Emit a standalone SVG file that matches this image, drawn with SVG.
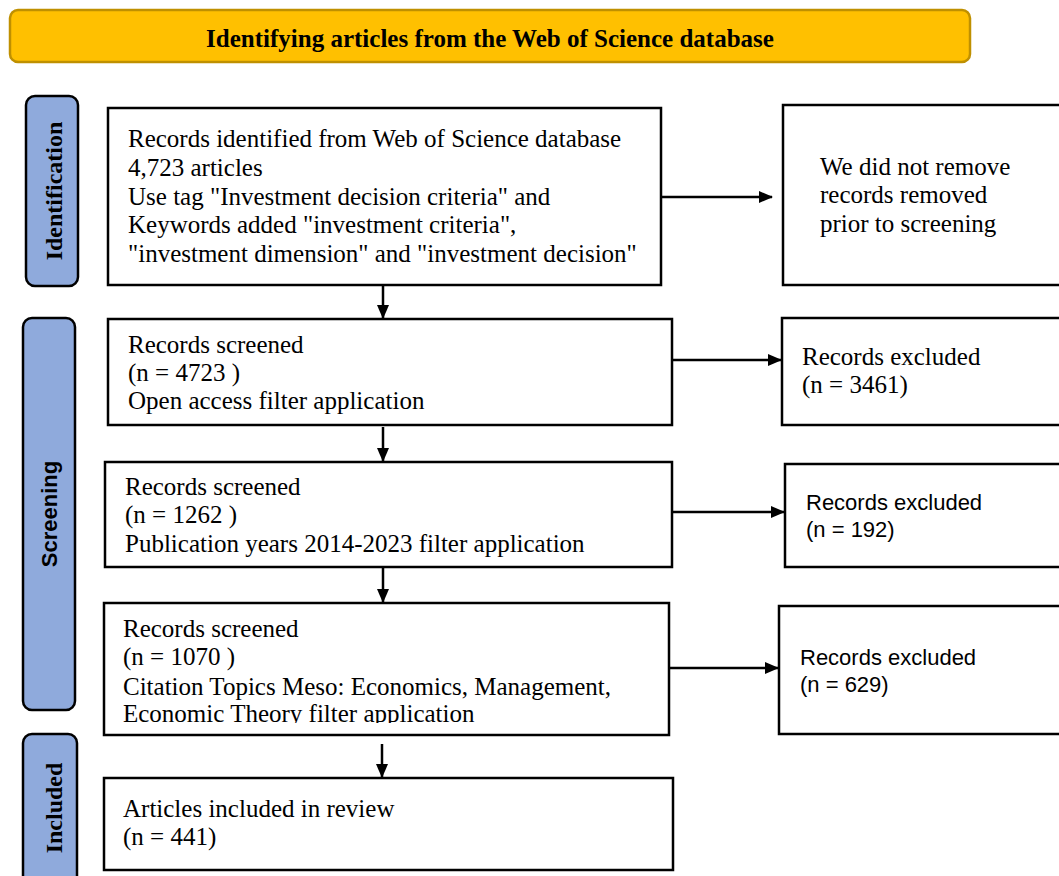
<svg xmlns="http://www.w3.org/2000/svg" width="1059" height="876" viewBox="0 0 1059 876">
<style>
.box{fill:#fff;stroke:#000;stroke-width:2.5}
.side{fill:#8FAADC;stroke:#000;stroke-width:2.5}
.t{font-family:"Liberation Serif","Times New Roman",serif;font-size:25px;fill:#000}
.a{font-family:"Liberation Sans",Arial,sans-serif;font-size:22px;fill:#000}
.sb{font-family:"Liberation Serif","Times New Roman",serif;font-size:24px;font-weight:bold;fill:#000}
.sa{font-family:"Liberation Sans",Arial,sans-serif;font-size:22px;font-weight:bold;fill:#000}
.c{stroke:#000;stroke-width:2.5;fill:none;marker-end:url(#ah)}
</style>
<defs>
<marker id="ah" markerWidth="14" markerHeight="12" refX="13" refY="6" orient="auto" markerUnits="userSpaceOnUse">
<path d="M0,0 L14,6 L0,12 Z" fill="#000"/>
</marker>
<clipPath id="clip3"><rect x="104" y="603" width="566" height="120"/></clipPath>
</defs>
<rect width="1059" height="876" fill="#fff"/>
<g id="banner">
<rect x="10" y="10" width="960" height="52" rx="8" fill="#FFC000" stroke="#BF9000" stroke-width="2.5"/>
<text x="490" y="47" text-anchor="middle" font-family="Liberation Serif,'Times New Roman',serif" font-size="25" font-weight="bold">Identifying articles from the Web of Science database</text>
</g>
<g id="lbl-identification">
<rect class="side" x="26" y="96" width="52" height="190" rx="9"/>
<text class="sb" transform="translate(62,191) rotate(-90)" text-anchor="middle">Identification</text>
</g>
<g id="lbl-screening">
<rect class="side" x="23" y="318" width="52" height="392" rx="9"/>
<text class="sa" transform="translate(57,514) rotate(-90)" text-anchor="middle">Screening</text>
</g>
<g id="lbl-included">
<rect class="side" x="23" y="734" width="54" height="160" rx="9"/>
<text class="sb" transform="translate(62,808) rotate(-90)" text-anchor="middle">Included</text>
</g>
<g id="n-identified">
<rect class="box" x="108" y="108" width="553" height="177"/>
<text class="t" x="128" y="147">Records identified from Web of Science database</text>
<text class="t" x="128" y="176">4,723 articles</text>
<text class="t" x="128" y="205">Use tag "Investment decision criteria" and</text>
<text class="t" x="128" y="233">Keywords added "investment criteria",</text>
<text class="t" x="128" y="262">"investment dimension" and "investment decision"</text>
</g>
<g id="n-notremoved">
<rect class="box" x="783" y="105" width="290" height="180"/>
<text class="t" x="820" y="175">We did not remove</text>
<text class="t" x="820" y="203">records removed</text>
<text class="t" x="820" y="232">prior to screening</text>
</g>
<g id="n-screen1">
<rect class="box" x="108" y="319" width="564" height="106"/>
<text class="t" x="128" y="353">Records screened</text>
<text class="t" x="128" y="381">(n = 4723 )</text>
<text class="t" x="128" y="409">Open access filter application</text>
</g>
<g id="n-excl1">
<rect class="box" x="782" y="318" width="290" height="107"/>
<text class="t" x="802" y="365">Records excluded</text>
<text class="t" x="802" y="393">(n = 3461)</text>
</g>
<g id="n-screen2">
<rect class="box" x="105" y="462" width="567" height="105"/>
<text class="t" x="125" y="495">Records screened</text>
<text class="t" x="125" y="523">(n = 1262 )</text>
<text class="t" x="125" y="552">Publication years 2014-2023 filter application</text>
</g>
<g id="n-excl2">
<rect class="box" x="785" y="464" width="290" height="103"/>
<text class="a" x="806" y="510">Records excluded</text>
<text class="a" x="806" y="537">(n = 192)</text>
</g>
<g id="n-screen3">
<rect class="box" x="104" y="603" width="565" height="132"/>
<text class="t" x="123" y="637">Records screened</text>
<text class="t" x="123" y="665">(n = 1070 )</text>
<text class="t" x="123" y="695">Citation Topics Meso: Economics, Management,</text>
<text class="t" x="123" y="722" clip-path="url(#clip3)">Economic Theory filter application</text>
</g>
<g id="n-excl3">
<rect class="box" x="779" y="606" width="290" height="128"/>
<text class="a" x="800" y="665">Records excluded</text>
<text class="a" x="800" y="692">(n = 629)</text>
</g>
<g id="n-included">
<rect class="box" x="104" y="778" width="569" height="92"/>
<text class="t" x="123" y="817">Articles included in review</text>
<text class="t" x="123" y="845">(n = 441)</text>
</g>
<g id="connectors">
<line class="c" x1="661" y1="197" x2="772" y2="197"/>
<line class="c" x1="383" y1="285" x2="383" y2="318"/>
<line class="c" x1="672" y1="360" x2="781" y2="360"/>
<line class="c" x1="383" y1="427" x2="383" y2="461"/>
<line class="c" x1="672" y1="512" x2="784" y2="512"/>
<line class="c" x1="383" y1="567" x2="383" y2="602"/>
<line class="c" x1="669" y1="668" x2="778" y2="668"/>
<line class="c" x1="382" y1="744" x2="382" y2="777"/>
</g>
</svg>
